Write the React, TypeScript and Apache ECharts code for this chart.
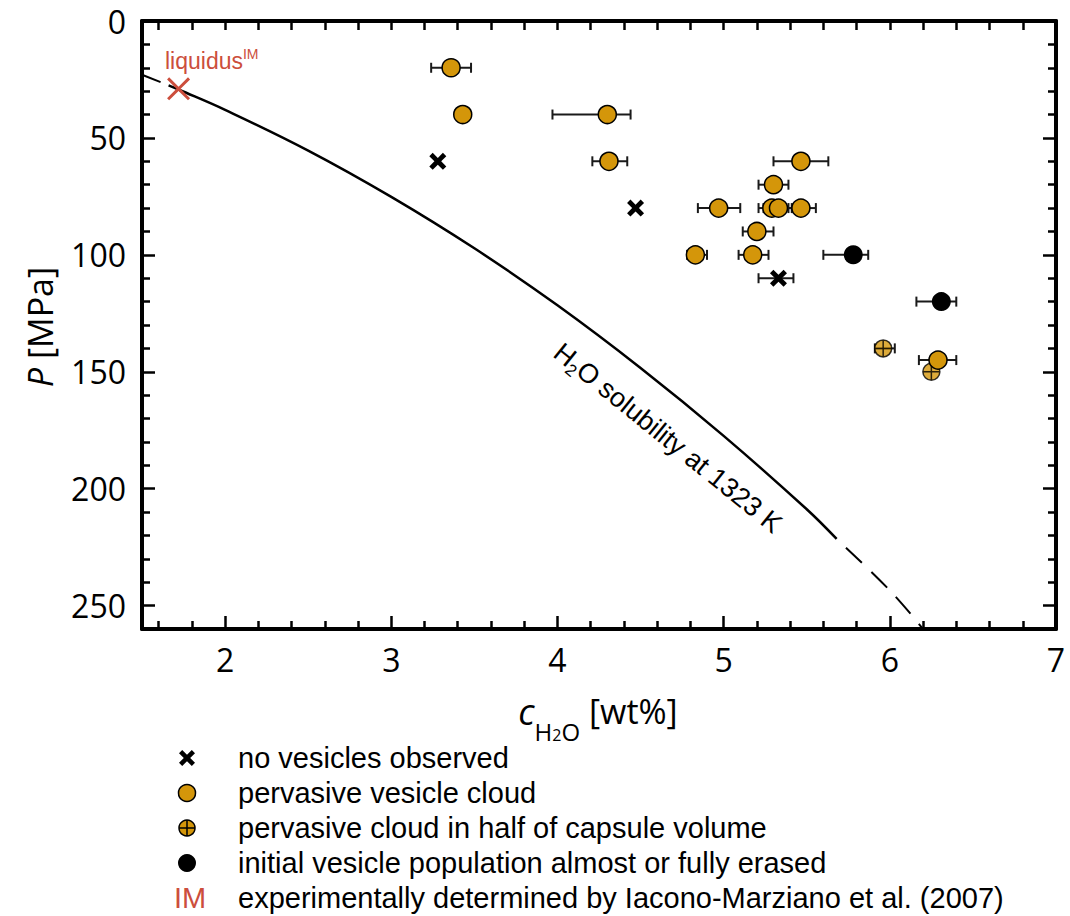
import React, { useEffect, useRef } from 'react';
import * as echarts from 'echarts';

const X_MIN = 1.5;
const X_MAX = 7;
const Y_MIN = 0;
const Y_MAX = 260;

const xMajorTicks = [2, 3, 4, 5, 6, 7];
const xMajorLabels = [2, 3, 4, 5, 6, 7];
const xMinorTicks = [1.6, 1.8, 2.2, 2.4, 2.6, 2.8, 3.2, 3.4, 3.6, 3.8, 4.2, 4.4, 4.6, 4.8, 5.2, 5.4, 5.6, 5.8, 6.2, 6.4, 6.6, 6.8];
const xTopTicks = [1.6, 1.8, 2, 2.2, 2.4, 2.6, 2.8, 3, 3.2, 3.4, 3.6, 3.8, 4, 4.2, 4.4, 4.6, 4.8, 5, 5.2, 5.4, 5.6, 5.8, 6, 6.2, 6.4, 6.6, 6.8];
const yMajorTicks = [0, 50, 100, 150, 200, 250];
const yMajorLabels = [0, 50, 100, 150, 200, 250];
const yMinorTicks = [10, 20, 30, 40, 60, 70, 80, 90, 110, 120, 130, 140, 160, 170, 180, 190, 210, 220, 230, 240];

// [c_H2O wt%, P MPa]
const noVesicles = [[3.28, 60], [4.47, 80], [5.33, 110]];
const pervasive = [
  [3.36, 20], [3.43, 40], [4.3, 40], [4.31, 60], [5.465, 60], [5.3, 70],
  [4.97, 80], [5.29, 80], [5.33, 80], [5.465, 80], [5.2, 90], [4.83, 100],
  [5.175, 100], [6.29, 145],
];
const halfCapsule = [[5.96, 140], [6.25, 150]];
const erased = [[5.78, 100], [6.31, 120]];
const liquidusIM = [[1.72, 29]];

// [c, P, low, high]
const errorBars = [
  [3.36, 20, 3.24, 3.48],
  [4.3, 40, 3.97, 4.44],
  [4.31, 60, 4.21, 4.42],
  [5.465, 60, 5.3, 5.63],
  [5.3, 70, 5.21, 5.39],
  [4.97, 80, 4.845, 5.1],
  [5.29, 80, 5.21, 5.37],
  [5.33, 80, 5.24, 5.41],
  [5.465, 80, 5.39, 5.555],
  [5.2, 90, 5.115, 5.3],
  [4.83, 100, 4.78, 4.9],
  [5.175, 100, 5.09, 5.27],
  [6.29, 145, 6.175, 6.4],
  [5.33, 110, 5.21, 5.42],
  [5.78, 100, 5.6, 5.87],
  [6.31, 120, 6.16, 6.4],
  [5.96, 140, 5.91, 6.03],
];

// H2O solubility curve at 1323 K
const solubilitySolid = [
  [1.66, 27.5], [1.72, 29.3], [2.0, 38], [2.5, 55.4], [3.0, 75.2], [3.5, 97.2],
  [4.0, 121.6], [4.5, 148.4], [5.0, 177.4], [5.5, 208.8], [5.68, 221.5],
];
const solubilityDashLow = [[1.5, 23], [1.66, 27.5]];
const solubilityDashHigh = [[5.68, 221.5], [6.0, 243.5], [6.2, 260]];

const ORANGE = '#D4960A';
const RED = '#CC4E3C';
const BOLD_X = 'path://M0,2 L2,0 L5,3 L8,0 L10,2 L7,5 L10,8 L8,10 L5,7 L2,10 L0,8 L3,5 Z';
const THIN_X = 'path://M0,0.9 L0.9,0 L5,4.1 L9.1,0 L10,0.9 L5.9,5 L10,9.1 L9.1,10 L5,5.9 L0.9,10 L0,9.1 L4.1,5 Z';
const CROSSED = 'path://M0,10 A10,10 0 1,1 20,10 A10,10 0 1,1 0,10 Z M0,10 L20,10 M10,0 L10,20';

const TICK_FONT = '"Open Sans", sans-serif';
const TEXT_FONT = '"Liberation Sans", Arial, sans-serif';

function xAxis(position: string, ticks: number[], len: number, showLine: boolean, labels: number[] | null) {
  return {
    type: 'value', min: X_MIN, max: X_MAX, position,
    axisLine: { show: showLine, onZero: false, lineStyle: { color: '#000', width: 4 } },
    axisTick: { show: true, inside: true, length: len, customValues: ticks, lineStyle: { color: '#000', width: 2.5 } },
    axisLabel: labels
      ? { show: true, customValues: labels, fontSize: 32, fontFamily: TICK_FONT, color: '#000', margin: 14 }
      : { show: false },
    splitLine: { show: false },
  };
}
function yAxis(position: string, ticks: number[], len: number, showLine: boolean, labels: number[] | null) {
  return {
    type: 'value', min: Y_MIN, max: Y_MAX, inverse: true, position,
    axisLine: { show: showLine, onZero: false, lineStyle: { color: '#000', width: 4 } },
    axisTick: { show: true, inside: true, length: len, customValues: ticks, lineStyle: { color: '#000', width: 2.5 } },
    axisLabel: labels
      ? { show: true, customValues: labels, fontSize: 32, fontFamily: TICK_FONT, color: '#000', margin: 16 }
      : { show: false },
    splitLine: { show: false },
  };
}

const legendLabels = [
  'no vesicles observed',
  'pervasive vesicle cloud',
  'pervasive cloud in half of capsule volume',
  'initial vesicle population almost or fully erased',
  'experimentally determined by Iacono-Marziano et al. (2007)',
];
const legendRows = [758, 793, 828, 863, 898];
const legendSymX = 187;
const legendTextX = 238;

function legendGraphics() {
  const els: any[] = [];
  legendLabels.forEach((t, i) => {
    els.push({
      type: 'text', x: legendTextX, y: legendRows[i],
      style: { text: t, fill: '#000', font: `29px ${TEXT_FONT}`, textAlign: 'left', textVerticalAlign: 'middle', align: 'left', verticalAlign: 'middle' },
    });
  });
  const s = 1.6;
  const cx = legendSymX, cy0 = legendRows[0];
  const xpts = [[0, 2], [2, 0], [5, 3], [8, 0], [10, 2], [7, 5], [10, 8], [8, 10], [5, 7], [2, 10], [0, 8], [3, 5]].map(
    ([a, b]) => [cx + (a - 5) * s, cy0 + (b - 5) * s]
  );
  els.push({ type: 'polygon', shape: { points: xpts }, style: { fill: '#000' } });
  els.push({ type: 'circle', shape: { cx, cy: legendRows[1], r: 8.5 }, style: { fill: ORANGE, stroke: '#000', lineWidth: 1.5 } });
  els.push({ type: 'circle', shape: { cx, cy: legendRows[2], r: 8 }, style: { fill: ORANGE, stroke: '#000', lineWidth: 1.5 } });
  els.push({ type: 'line', shape: { x1: cx - 8, y1: legendRows[2], x2: cx + 8, y2: legendRows[2] }, style: { stroke: '#000', lineWidth: 1.5 } });
  els.push({ type: 'line', shape: { x1: cx, y1: legendRows[2] - 8, x2: cx, y2: legendRows[2] + 8 }, style: { stroke: '#000', lineWidth: 1.5 } });
  els.push({ type: 'circle', shape: { cx, cy: legendRows[3], r: 9 }, style: { fill: '#000' } });
  els.push({
    type: 'text', x: 174, y: legendRows[4],
    style: { text: 'IM', fill: RED, font: `29px ${TEXT_FONT}`, textAlign: 'left', textVerticalAlign: 'middle', align: 'left', verticalAlign: 'middle' },
  });
  return els;
}

export default function App() {
  const ref = useRef<HTMLDivElement>(null);
  useEffect(() => {
    document.body.style.margin = '0';
    if (!ref.current) return;
    const chart = echarts.init(ref.current, null, { renderer: 'svg' });
    const option: any = {
      animation: false,
      backgroundColor: '#fff',
      grid: { left: 142, right: 14, top: 21, bottom: 287, containLabel: false },
      xAxis: [
        xAxis('bottom', xMajorTicks, 13, true, xMajorLabels),
        xAxis('bottom', xMinorTicks, 8, false, null),
        xAxis('top', xTopTicks, 9, true, null),
      ],
      yAxis: [
        yAxis('left', yMajorTicks, 13, true, yMajorLabels),
        yAxis('left', yMinorTicks, 8, false, null),
        yAxis('right', yMajorTicks, 13, true, null),
        yAxis('right', yMinorTicks, 8, false, null),
      ],
      series: [
        {
          type: 'custom', name: 'errors', data: errorBars, encode: { x: [0, 2, 3], y: 1 }, z: 1,
          renderItem: (params: any, api: any) => {
            const y = api.value(1);
            const a = api.coord([api.value(2), y]);
            const b = api.coord([api.value(3), y]);
            const h = 5;
            const st = { stroke: '#1a1a1a', lineWidth: 2 };
            return {
              type: 'group',
              children: [
                { type: 'line', shape: { x1: a[0], y1: a[1], x2: b[0], y2: b[1] }, style: st },
                { type: 'line', shape: { x1: a[0], y1: a[1] - h, x2: a[0], y2: a[1] + h }, style: st },
                { type: 'line', shape: { x1: b[0], y1: b[1] - h, x2: b[0], y2: b[1] + h }, style: st },
              ],
            };
          },
        },
        {
          type: 'line', data: solubilitySolid, smooth: 0.4, showSymbol: false, symbol: 'none', z: 2,
          lineStyle: { color: '#000', width: 2.5 },
        },
        {
          type: 'line', data: solubilityDashLow, showSymbol: false, symbol: 'none', z: 2,
          lineStyle: { color: '#000', width: 2, type: [20, 10] },
        },
        {
          type: 'line', data: solubilityDashHigh, smooth: 0.4, showSymbol: false, symbol: 'none', z: 2,
          lineStyle: { color: '#000', width: 2, type: [22, 13], dashOffset: 22 },
        },
        {
          type: 'scatter', data: halfCapsule, symbol: CROSSED, symbolSize: 17, z: 3,
          itemStyle: { color: ORANGE, borderColor: '#000', borderWidth: 1.5 },
        },
        {
          type: 'scatter', data: pervasive, symbol: 'circle', symbolSize: 18, z: 4,
          itemStyle: { color: ORANGE, borderColor: '#000', borderWidth: 1.5, opacity: 1 },
        },
        {
          type: 'scatter', data: erased, symbol: 'circle', symbolSize: 19, z: 4,
          itemStyle: { color: '#000', opacity: 1 },
        },
        {
          type: 'scatter', data: noVesicles, symbol: BOLD_X, symbolSize: 17, z: 5,
          itemStyle: { color: '#000', opacity: 1 },
        },
        {
          type: 'scatter', data: liquidusIM, symbol: THIN_X, symbolSize: 23, z: 5,
          itemStyle: { color: RED, opacity: 1 },
        },
      ],
      graphic: [
        {
          type: 'text', x: 165, y: 61,
          style: {
            text: '{a|liquidus}{b|IM}', fill: RED, textAlign: 'left', textVerticalAlign: 'middle', align: 'left', verticalAlign: 'middle',
            rich: {
              a: { fontSize: 23, fontFamily: TEXT_FONT, fill: RED, color: RED, lineHeight: 28 },
              b: { fontSize: 14, fontFamily: TEXT_FONT, fill: RED, color: RED, verticalAlign: 'top', lineHeight: 14 },
            },
          },
        },
        {
          type: 'text', x: 668, y: 438, rotation: -0.68,
          style: {
            text: '{a|H}{s|2}{a|O solubility at 1323 K}', fill: '#000', textAlign: 'center', textVerticalAlign: 'middle', align: 'center', verticalAlign: 'middle',
            rich: {
              a: { fontSize: 27, fontFamily: TEXT_FONT, fill: '#000', color: '#000', lineHeight: 34 },
              s: { fontSize: 17, fontFamily: TEXT_FONT, fill: '#000', color: '#000', verticalAlign: 'bottom', lineHeight: 10 },
            },
          },
        },
        {
          type: 'text', x: 598, y: 711,
          style: {
            text: '{c|c}{h|H}{s|2}{h|O}{n| [wt%]}', fill: '#000', textAlign: 'center', textVerticalAlign: 'middle', align: 'center', verticalAlign: 'middle',
            rich: {
              c: { fontSize: 36, fontFamily: TICK_FONT, fontStyle: 'italic', fill: '#000', color: '#000', lineHeight: 64 },
              h: { fontSize: 24, fontFamily: TICK_FONT, fill: '#000', color: '#000', verticalAlign: 'bottom', lineHeight: 20 },
              s: { fontSize: 16, fontFamily: TICK_FONT, fill: '#000', color: '#000', verticalAlign: 'bottom', lineHeight: 6 },
              n: { fontSize: 34, fontFamily: TICK_FONT, fill: '#000', color: '#000', lineHeight: 64 },
            },
          },
        },
        {
          type: 'text', x: 40, y: 327, rotation: Math.PI / 2,
          style: {
            text: '{p|P}{n| [MPa]}', fill: '#000', textAlign: 'center', textVerticalAlign: 'middle', align: 'center', verticalAlign: 'middle',
            rich: {
              p: { fontSize: 34, fontFamily: TICK_FONT, fontStyle: 'italic', fill: '#000', color: '#000' },
              n: { fontSize: 34, fontFamily: TICK_FONT, fill: '#000', color: '#000' },
            },
          },
        },
        ...legendGraphics(),
      ],
    };
    chart.setOption(option);
    return () => chart.dispose();
  }, []);
  return <div ref={ref} style={{ width: 1070, height: 916 }} />;
}
